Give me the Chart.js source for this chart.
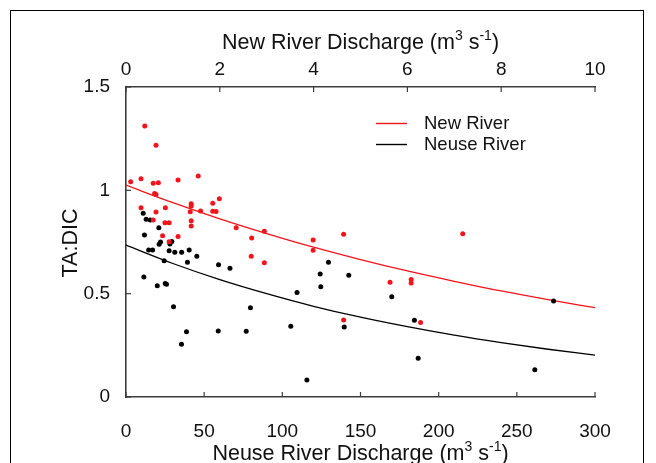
<!DOCTYPE html>
<html>
<head>
<meta charset="utf-8">
<script src="https://cdn.jsdelivr.net/npm/chart.js@4.4.1/dist/chart.umd.min.js"></script>
<style>
html,body{margin:0;padding:0;background:#fff;overflow:hidden;width:656px;height:463px}
#frame{position:absolute;left:10px;top:10px;width:632px;height:480px;border:1px solid #000;border-bottom:none}
#c{position:absolute;left:0;top:0}
</style>
</head>
<body>
<div id="frame"></div>
<canvas id="c" width="656" height="463"></canvas>
<script>
// New River samples (discharge on top axis, m3/s)
const newQ = [0.10,0.32,0.40,0.58,0.69,0.64,1.11,1.54,0.61,0.64,0.32,0.84,0.64,1.39,1.39,1.37,1.59,1.85,1.99,1.85,1.92,
  0.58,0.83,0.92,1.39,1.39,2.35,2.68,2.95,0.78,1.11,0.92,2.67,2.95,3.99,3.99,4.64,7.18,5.63,6.08,6.08,4.64,6.28]
const newTA = [1.042,1.056,1.311,1.034,1.037,1.218,1.050,1.069,0.985,0.980,0.916,0.916,0.895,0.935,0.924,0.896,0.900,0.937,0.959,0.899,0.898,
  0.856,0.843,0.843,0.853,0.827,0.819,0.769,0.802,0.780,0.777,0.751,0.681,0.650,0.760,0.710,0.787,0.790,0.555,0.569,0.552,0.373,0.361]

// Neuse River samples (discharge on bottom axis, m3/s)
const neuseQ = [11.0,12.9,15.5,21.0,11.8,21.2,22.1,28.1,29.3,14.5,17.0,27.6,31.2,35.6,40.4,45.3,24.4,39.3,59.2,66.5,11.4,20.0,
  25.1,25.9,30.4,38.7,35.5,59.0,79.6,76.9,105.4,109.4,129.5,124.2,124.6,142.5,170.0,184.5,139.6,186.9,115.7,261.5,273.5]
const neuseTA = [0.889,0.860,0.856,0.819,0.784,0.739,0.750,0.740,0.752,0.711,0.711,0.708,0.701,0.701,0.711,0.681,0.659,0.652,0.640,0.623,0.581,0.538,
  0.549,0.545,0.437,0.316,0.255,0.319,0.432,0.318,0.342,0.506,0.652,0.595,0.534,0.589,0.485,0.371,0.339,0.187,0.082,0.132,0.464]

// fitted curves
const newFitQ = [0,1,2,3,4,5,6,7,8,9,10]
const newFitTA = [1.025,0.940,0.862,0.791,0.725,0.665,0.610,0.560,0.513,0.471,0.432]
const neuseFitQ = [0,30,60,90,120,150,180,210,240,270,300]
const neuseFitTA = [0.735,0.646,0.568,0.500,0.439,0.386,0.340,0.299,0.263,0.231,0.203]

const legendNames = ['New River','Neuse River']
const RED = '#f2131b'
const FONT = "'Liberation Sans', Arial, Helvetica, sans-serif"
const AXIS = '#3c3c3c'

function pts(xs,ys){ return xs.map((x,i)=>({x:x,y:ys[i]})) }

const insideTicks = {
  id:'insideTicks',
  afterDraw(chart){
    const ctx=chart.ctx, a=chart.chartArea
    ctx.save(); ctx.strokeStyle=AXIS; ctx.lineWidth=1.2
    const sx=chart.scales.x, sx2=chart.scales.x2, sy=chart.scales.y
    sx.ticks.forEach(t=>{const p=sx.getPixelForValue(t.value); ctx.beginPath(); ctx.moveTo(p,a.bottom); ctx.lineTo(p,a.bottom-5); ctx.stroke()})
    sx2.ticks.forEach(t=>{const p=sx2.getPixelForValue(t.value); ctx.beginPath(); ctx.moveTo(p,a.top); ctx.lineTo(p,a.top+5); ctx.stroke()})
    sy.ticks.forEach(t=>{const p=sy.getPixelForValue(t.value); ctx.beginPath(); ctx.moveTo(a.left,p); ctx.lineTo(a.left+5,p); ctx.stroke()})
    ctx.restore()
  }
}

function supTitle(ctx,cx,y,parts){
  // parts: [text, isSup]
  let w=0
  parts.forEach(p=>{ctx.font=(p[1]?'14px ':'21.5px ')+FONT; w+=ctx.measureText(p[0]).width})
  let x=cx-w/2
  parts.forEach(p=>{ctx.font=(p[1]?'14px ':'21.5px ')+FONT; ctx.fillText(p[0],x,p[1]?y-9:y); x+=ctx.measureText(p[0]).width})
}

const titles = {
  id:'titles',
  afterDraw(chart){
    const ctx=chart.ctx, a=chart.chartArea, cx=(a.left+a.right)/2
    ctx.save(); ctx.fillStyle='#111'; ctx.textBaseline='alphabetic'; ctx.textAlign='left'
    supTitle(ctx,cx,49,[['New River Discharge (m',0],['3',1],[' s',0],['-1',1],[')',0]])
    supTitle(ctx,cx,460,[['Neuse River Discharge (m',0],['3',1],[' s',0],['-1',1],[')',0]])
    ctx.translate(71,243); ctx.rotate(-Math.PI/2); ctx.textAlign='center'; ctx.textBaseline='middle'
    ctx.font='21.5px '+FONT; ctx.fillText('TA:DIC',0,0)
    ctx.restore()
    // legend
    ctx.save(); ctx.lineWidth=1.4; ctx.font='18.5px '+FONT; ctx.textBaseline='middle'; ctx.fillStyle='#111'
    const cols=[RED,'#000']
    legendNames.forEach((n,i)=>{
      const y=123.5+i*21
      ctx.strokeStyle=cols[i]; ctx.beginPath(); ctx.moveTo(376,y); ctx.lineTo(407,y); ctx.stroke()
      ctx.fillText(n,424,y)
    })
    ctx.restore()
  }
}

Chart.defaults.font.family=FONT
Chart.defaults.color='#111'

new Chart(document.getElementById('c'),{
  type:'scatter',
  data:{datasets:[
    {label:legendNames[0],data:pts(newQ,newTA),xAxisID:'x2',yAxisID:'y',backgroundColor:RED,borderColor:RED,pointRadius:2.5,pointBorderWidth:0},
    {label:legendNames[1],data:pts(neuseQ,neuseTA),xAxisID:'x',yAxisID:'y',backgroundColor:'#000',borderColor:'#000',pointRadius:2.5,pointBorderWidth:0},
    {type:'line',label:'New fit',data:pts(newFitQ,newFitTA),xAxisID:'x2',yAxisID:'y',borderColor:RED,borderWidth:1.3,pointRadius:0,fill:false,cubicInterpolationMode:'monotone'},
    {type:'line',label:'Neuse fit',data:pts(neuseFitQ,neuseFitTA),xAxisID:'x',yAxisID:'y',borderColor:'#000',borderWidth:1.3,pointRadius:0,fill:false,cubicInterpolationMode:'monotone'}
  ]},
  options:{
    responsive:false,
    animation:false,
    layout:{padding:{left:0,right:61,top:0,bottom:0}},
    plugins:{legend:{display:false},tooltip:{enabled:false}},
    scales:{
      x:{type:'linear',position:'bottom',min:0,max:300,
        ticks:{stepSize:50,padding:15,font:{size:19},maxRotation:0},
        grid:{display:false},border:{display:true,color:AXIS,width:1.6},
        afterFit(s){s.height=66}},
      x2:{type:'linear',position:'top',min:0,max:10,
        ticks:{stepSize:2,padding:-2,font:{size:19},maxRotation:0},
        grid:{display:false},border:{display:true,color:AXIS,width:1.6},
        afterFit(s){s.height=87}},
      y:{type:'linear',position:'left',min:0,max:1.5,
        ticks:{stepSize:0.5,padding:8,font:{size:19},callback:v=>String(+v)},
        grid:{display:false},border:{display:true,color:AXIS,width:1.6},
        afterFit(s){s.width=126}}
    }
  },
  plugins:[insideTicks,titles]
})
</script>
</body>
</html>
